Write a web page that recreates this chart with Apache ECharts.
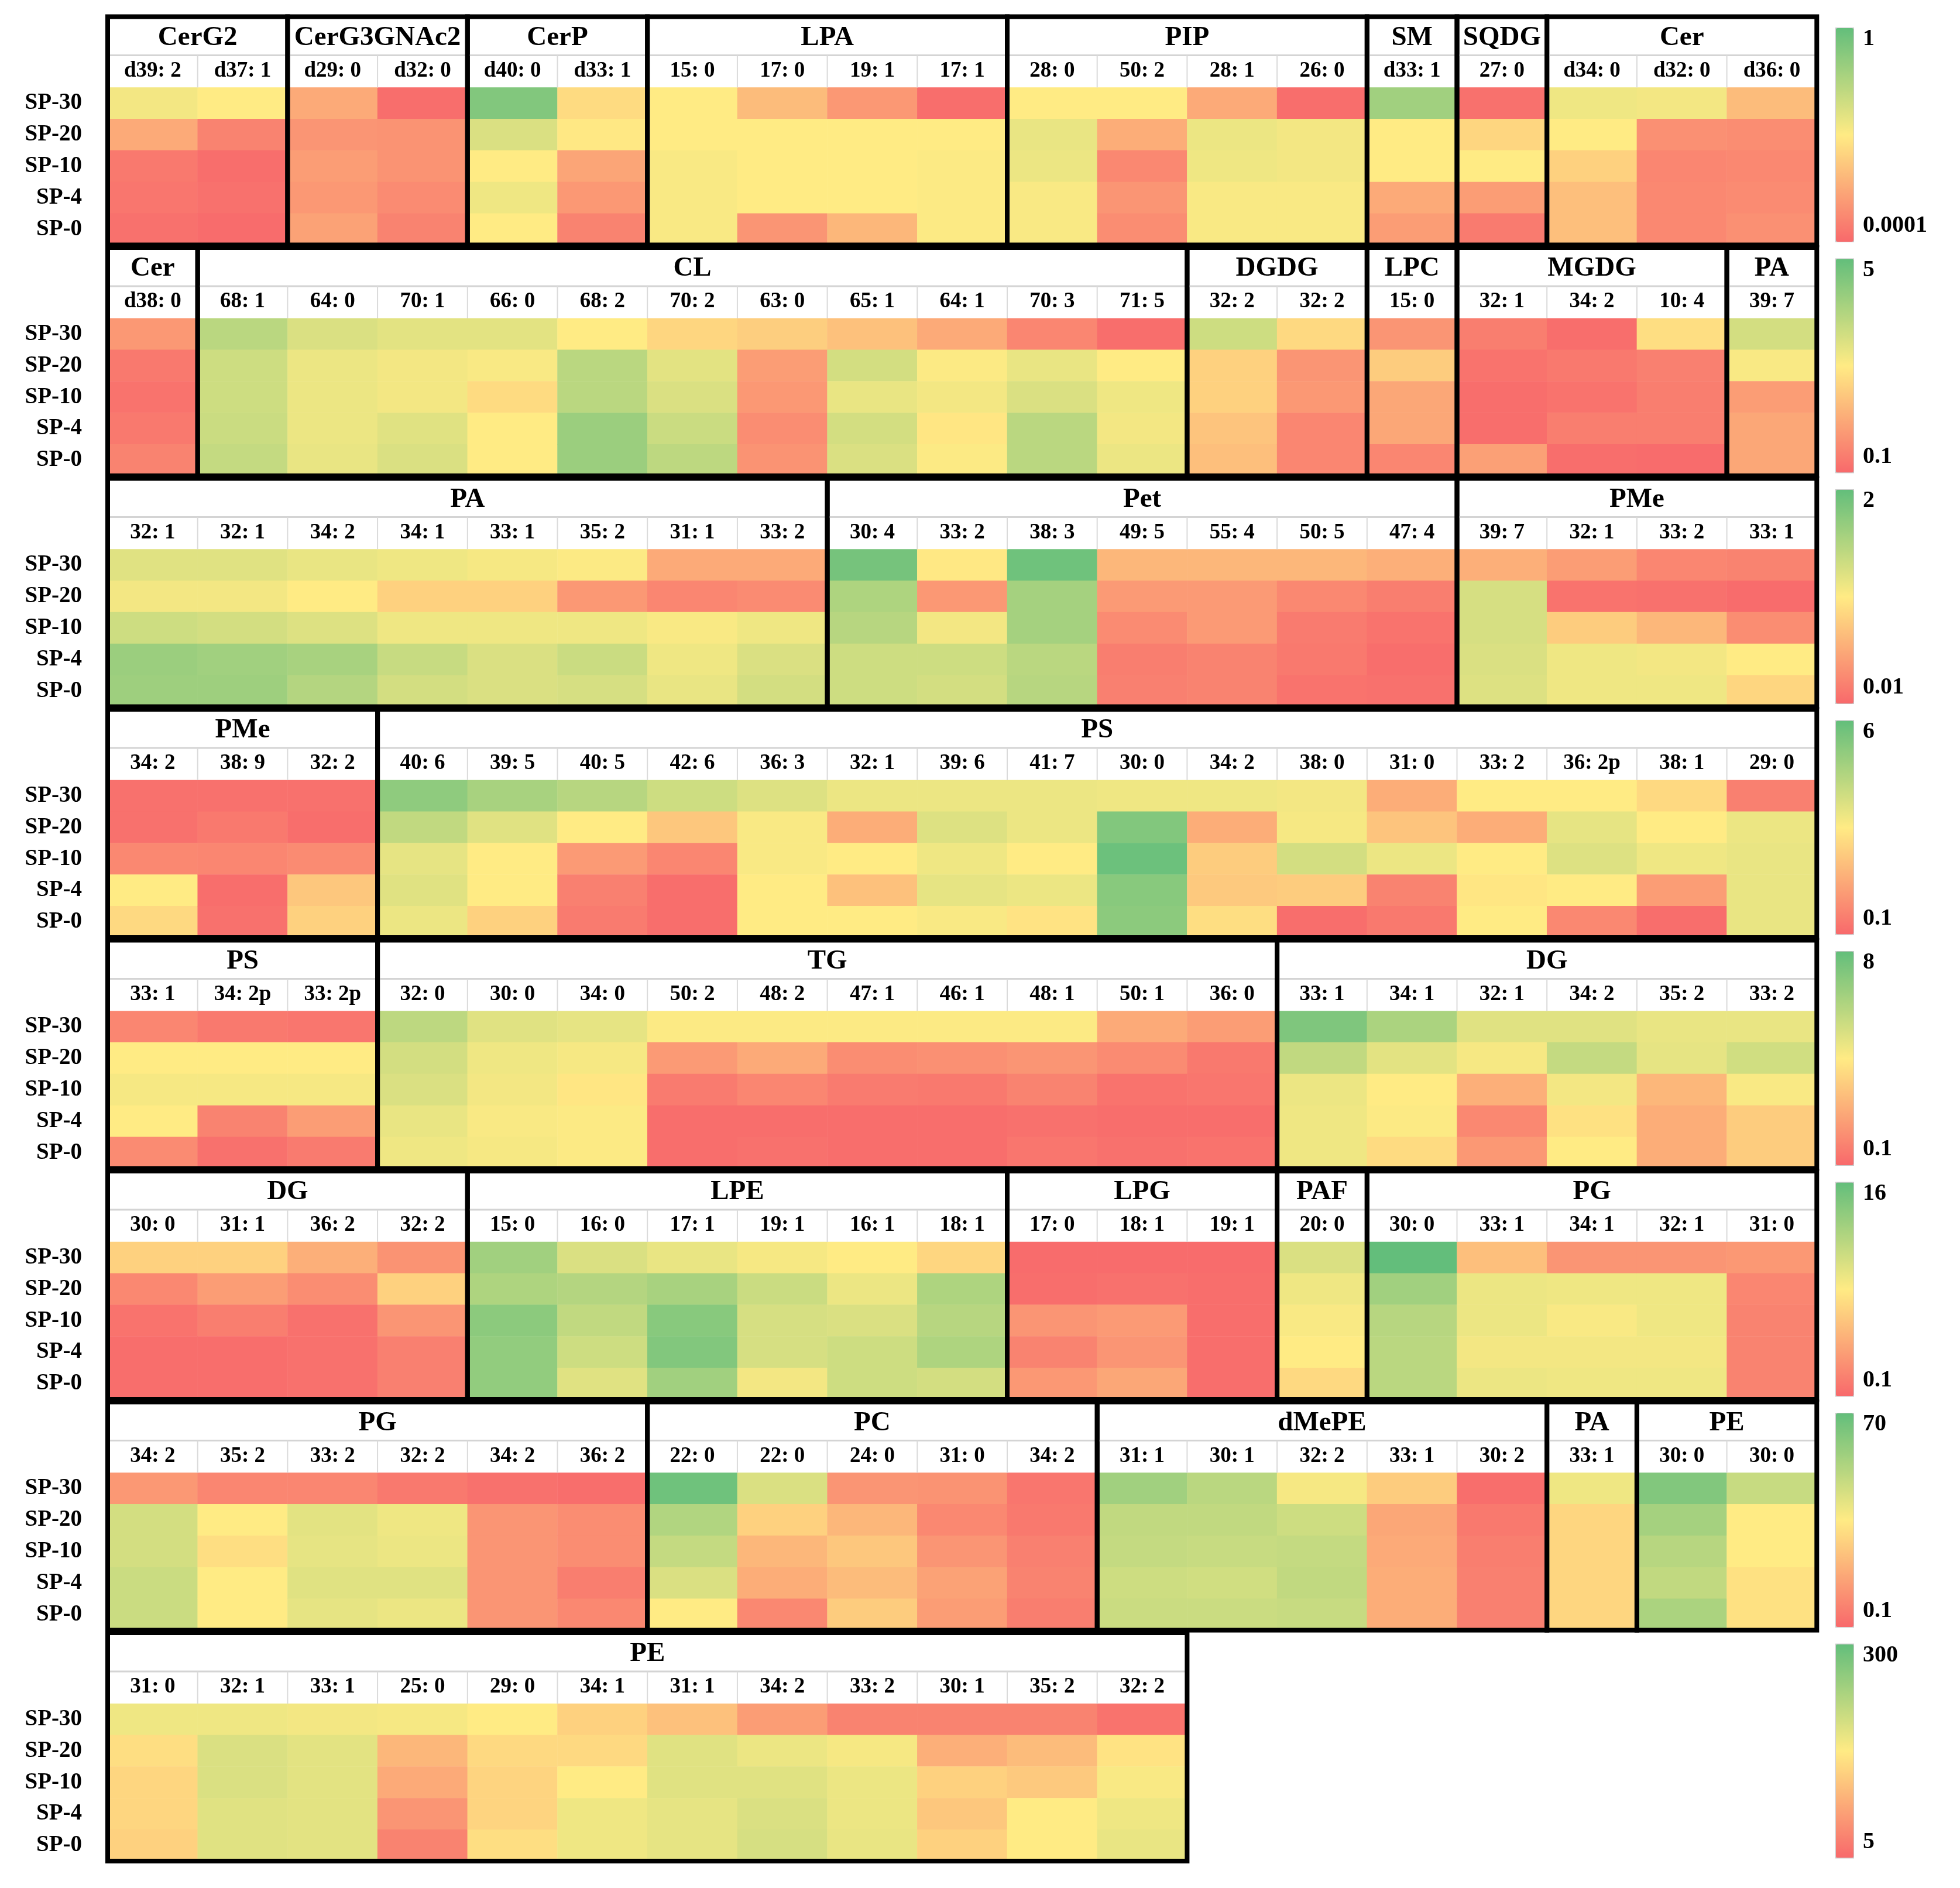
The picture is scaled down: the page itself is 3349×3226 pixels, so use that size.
<!DOCTYPE html>
<html>
<head>
<meta charset="utf-8">
<script src="https://cdn.jsdelivr.net/npm/echarts@6/dist/echarts.min.js"></script>
<style>
html, body { margin: 0; padding: 0; background: #fff; }
#coolgraph { width: 3349px; height: 3226px; }
</style>
</head>
<body>
<div id="coolgraph"></div>
<script>
// samples (rows of every block), top to bottom
var samples = ['SP-30', 'SP-20', 'SP-10', 'SP-4', 'SP-0'];

// values = position on that block's colour bar (0 = bottom label, 100 = top label),
// one inner list per species: SP-30, SP-20, SP-10, SP-4, SP-0
var groups1 = [['CerG2', 2], ['CerG3GNAc2', 2], ['CerP', 2], ['LPA', 4], ['PIP', 4], ['SM', 1], ['SQDG', 1], ['Cer', 3]];
var species1 = ['d39: 2', 'd37: 1', 'd29: 0', 'd32: 0', 'd40: 0', 'd33: 1', '15: 0', '17: 0', '19: 1', '17: 1', '28: 0', '50: 2', '28: 1', '26: 0', 'd33: 1', '27: 0', 'd34: 0', 'd32: 0', 'd36: 0'];
var values1 = [
  [54, 25, 6, 5, 3], [50, 10, 2, 3, 1], [25, 17, 20, 18, 22], [2, 16, 16, 13, 10],
  [90, 62, 50, 55, 50], [44, 49, 23, 18, 10], [50, 50, 52, 52, 52], [32, 50, 50, 50, 17],
  [18, 50, 50, 50, 30], [2, 50, 51, 51, 51], [50, 57, 56, 52, 52], [50, 26, 12, 17, 14],
  [25, 56, 55, 52, 52], [2, 54, 54, 52, 52], [80, 50, 50, 25, 20], [3, 42, 50, 20, 7],
  [55, 50, 40, 33, 33], [54, 15, 11, 12, 12], [32, 14, 12, 13, 15]
];
var scale1 = ['1', '0.0001'];

var groups2 = [['Cer', 1], ['CL', 11], ['DGDG', 2], ['LPC', 1], ['MGDG', 3], ['PA', 1]];
var species2 = ['d38: 0', '68: 1', '64: 0', '70: 1', '66: 0', '68: 2', '70: 2', '63: 0', '65: 1', '64: 1', '70: 3', '71: 5', '32: 2', '32: 2', '15: 0', '32: 1', '34: 2', '10: 4', '39: 7'];
var values2 = [
  [18, 6, 4, 6, 10], [72, 66, 66, 67, 69], [62, 56, 56, 56, 57], [59, 54, 54, 60, 62],
  [59, 52, 44, 50, 50], [50, 72, 72, 82, 82], [42, 59, 62, 67, 71], [39, 20, 18, 14, 16],
  [34, 64, 57, 64, 62], [25, 51, 54, 48, 51], [11, 57, 62, 72, 72], [2, 50, 55, 54, 56],
  [66, 40, 40, 35, 33], [43, 17, 18, 11, 11], [17, 38, 24, 24, 11], [8, 4, 2, 2, 21],
  [2, 6, 4, 8, 2], [45, 9, 8, 8, 1], [64, 52, 20, 24, 24]
];
var scale2 = ['5', '0.1'];

var groups3 = [['PA', 8], ['Pet', 7], ['PMe', 4]];
var species3 = ['32: 1', '32: 1', '34: 2', '34: 1', '33: 1', '35: 2', '31: 1', '33: 2', '30: 4', '33: 2', '38: 3', '49: 5', '55: 4', '50: 5', '47: 4', '39: 7', '32: 1', '33: 2', '33: 1'];
var values3 = [
  [60, 54, 66, 82, 81], [60, 54, 64, 80, 81], [57, 50, 61, 78, 74], [55, 40, 55, 68, 64],
  [53, 40, 55, 62, 62], [51, 18, 55, 67, 63], [25, 11, 52, 55, 57], [25, 13, 55, 62, 64],
  [94, 76, 73, 66, 66], [49, 18, 54, 66, 64], [96, 79, 79, 72, 73], [30, 19, 13, 8, 9],
  [30, 19, 19, 10, 10], [30, 12, 7, 6, 4], [27, 8, 4, 2, 3], [27, 63, 63, 62, 61],
  [20, 4, 38, 55, 55], [11, 3, 30, 54, 55], [10, 1, 14, 50, 42]
];
var scale3 = ['2', '0.01'];

var groups4 = [['PMe', 3], ['PS', 16]];
var species4 = ['34: 2', '38: 9', '32: 2', '40: 6', '39: 5', '40: 5', '42: 6', '36: 3', '32: 1', '39: 6', '41: 7', '30: 0', '34: 2', '38: 0', '31: 0', '33: 2', '36: 2p', '38: 1', '29: 0'];
var values4 = [
  [3, 3, 12, 50, 43], [3, 6, 11, 2, 3], [3, 2, 13, 36, 40], [86, 70, 58, 60, 56],
  [78, 60, 50, 50, 40], [73, 50, 19, 9, 7], [66, 36, 11, 2, 2], [61, 52, 52, 50, 50],
  [56, 26, 50, 34, 50], [56, 61, 55, 58, 52], [56, 56, 50, 56, 47], [55, 90, 97, 88, 87],
  [55, 26, 38, 37, 45], [54, 53, 64, 38, 2], [26, 35, 56, 10, 6], [50, 26, 50, 48, 50],
  [50, 58, 61, 50, 12], [43, 50, 55, 20, 2], [9, 56, 57, 57, 57]
];
var scale4 = ['6', '0.1'];

var groups5 = [['PS', 3], ['TG', 10], ['DG', 6]];
var species5 = ['33: 1', '34: 2p', '33: 2p', '32: 0', '30: 0', '34: 0', '50: 2', '48: 2', '47: 1', '46: 1', '48: 1', '50: 1', '36: 0', '33: 1', '34: 1', '32: 1', '34: 2', '35: 2', '33: 2'];
var values5 = [
  [11, 50, 53, 50, 13], [6, 50, 53, 10, 3], [5, 50, 53, 20, 7], [71, 64, 62, 57, 55],
  [60, 55, 54, 52, 53], [58, 53, 48, 51, 51], [51, 19, 7, 2, 2], [51, 25, 11, 2, 3],
  [51, 14, 7, 2, 2], [51, 15, 6, 2, 2], [51, 17, 10, 3, 5], [25, 13, 4, 2, 3],
  [20, 6, 5, 2, 4], [91, 70, 56, 55, 55], [77, 59, 50, 51, 44], [60, 53, 27, 12, 18],
  [60, 69, 54, 46, 50], [57, 58, 30, 26, 26], [57, 65, 52, 38, 38]
];
var scale5 = ['8', '0.1'];

var groups6 = [['DG', 4], ['LPE', 6], ['LPG', 3], ['PAF', 1], ['PG', 5]];
var species6 = ['30: 0', '31: 1', '36: 2', '32: 2', '15: 0', '16: 0', '17: 1', '19: 1', '16: 1', '18: 1', '17: 0', '18: 1', '19: 1', '20: 0', '30: 0', '33: 1', '34: 1', '32: 1', '31: 0'];
var values6 = [
  [40, 12, 4, 2, 2], [40, 20, 8, 2, 2], [27, 14, 3, 3, 3], [16, 40, 17, 9, 9],
  [80, 76, 87, 85, 85], [62, 74, 70, 66, 60], [57, 78, 88, 90, 80], [53, 67, 63, 63, 54],
  [50, 56, 62, 66, 66], [42, 76, 73, 76, 64], [1, 2, 17, 10, 18], [1, 3, 19, 17, 24],
  [1, 2, 2, 2, 2], [62, 55, 52, 50, 43], [100, 80, 73, 72, 72], [33, 56, 56, 54, 56],
  [17, 55, 52, 54, 55], [17, 55, 55, 54, 55], [18, 11, 10, 10, 10]
];
var scale6 = ['16', '0.1'];

var groups7 = [['PG', 6], ['PC', 5], ['dMePE', 5], ['PA', 1], ['PE', 2]];
var species7 = ['34: 2', '35: 2', '33: 2', '32: 2', '34: 2', '36: 2', '22: 0', '22: 0', '24: 0', '31: 0', '34: 2', '31: 1', '30: 1', '32: 2', '33: 1', '30: 2', '33: 1', '30: 0', '30: 0'];
var values7 = [
  [18, 64, 64, 67, 67], [11, 50, 45, 50, 50], [11, 59, 58, 60, 58], [6, 55, 56, 60, 56],
  [3, 17, 17, 17, 17], [2, 14, 14, 8, 12], [96, 75, 69, 62, 50], [62, 40, 30, 26, 12],
  [17, 30, 36, 32, 38], [16, 12, 17, 22, 20], [5, 6, 9, 10, 8], [80, 70, 69, 66, 67],
  [72, 70, 68, 65, 67], [53, 66, 69, 70, 68], [38, 24, 25, 26, 26], [2, 6, 8, 9, 9],
  [55, 42, 42, 42, 42], [90, 79, 73, 70, 77], [68, 50, 50, 46, 46]
];
var scale7 = ['70', '0.1'];

var groups8 = [['PE', 12]];
var species8 = ['31: 0', '32: 1', '33: 1', '25: 0', '29: 0', '34: 1', '31: 1', '34: 2', '33: 2', '30: 1', '35: 2', '32: 2'];
var values8 = [
  [55, 45, 42, 42, 40], [55, 62, 62, 60, 60], [54, 59, 59, 59, 59], [53, 30, 25, 17, 10],
  [50, 43, 41, 41, 45], [40, 43, 50, 55, 55], [34, 60, 60, 58, 58], [20, 56, 60, 62, 63],
  [10, 53, 56, 56, 57], [10, 27, 40, 36, 40], [10, 32, 37, 50, 50], [4, 47, 52, 55, 57]
];
var scale8 = ['300', '5'];

var blocks = [
  [groups1, species1, values1, scale1],
  [groups2, species2, values2, scale2],
  [groups3, species3, values3, scale3],
  [groups4, species4, values4, scale4],
  [groups5, species5, values5, scale5],
  [groups6, species6, values6, scale6],
  [groups7, species7, values7, scale7],
  [groups8, species8, values8, scale8]
];

var serif = '"Liberation Serif", "Times New Roman", serif';
var colW = 153.7;
var gridLeft = 184;
var pitch = 394.5;
var firstTop = 149.5;
var cellH = 269;
var barTop = 47;
var barH = 365;

var chartDom = document.getElementById('coolgraph');
var myChart = echarts.init(chartDom);

function groupSpans(groups) {
  var out = [];
  var c = 0;
  for (var i = 0; i < groups.length; i++) {
    out.push({ name: groups[i][0], value: [c, 0, c + groups[i][1] - 1] });
    c += groups[i][1];
  }
  return out;
}

// header boxes + thick frame around each lipid class
function makeRender(spans) {
  return function (params, api) {
    var g = spans[params.dataIndex];
    var s = api.value(0), e = api.value(2);
    var size = api.size([1, 1]);
    var a = api.coord([s, 0]);
    var b = api.coord([e, 4]);
    var x0 = a[0] - size[0] / 2;
    var x1 = b[0] + size[0] / 2;
    var top = a[1] - size[1] / 2;
    var bottom = b[1] + size[1] / 2;
    var headTop = top - 121;
    var spTop = top - 55;
    var kids = [];
    kids.push({ type: 'line', shape: { x1: x0, y1: spTop, x2: x1, y2: spTop }, style: { stroke: '#d4d4d4', lineWidth: 3 } });
    for (var k = s + 1; k <= e; k++) {
      var xk = api.coord([k, 0])[0] - size[0] / 2;
      kids.push({ type: 'line', shape: { x1: xk, y1: spTop, x2: xk, y2: top }, style: { stroke: '#dadada', lineWidth: 2 } });
    }
    kids.push({
      type: 'text',
      style: { text: g.name, x: (x0 + x1) / 2, y: headTop + 36, align: 'center', verticalAlign: 'middle', font: 'bold 47px ' + serif, fill: '#000' }
    });
    kids.push({ type: 'rect', shape: { x: x0, y: headTop, width: x1 - x0, height: bottom - headTop }, style: { fill: 'none', stroke: '#000', lineWidth: 8 } });
    return { type: 'group', children: kids };
  };
}

var grids = [], xAxes = [], yAxes = [], series = [], custom = [], maps = [], labels = [];

for (let r = 0; r < blocks.length; r++) {
  var groups = blocks[r][0], species = blocks[r][1], values = blocks[r][2], scale = blocks[r][3];
  grids.push({ left: gridLeft, top: firstTop + r * pitch, width: species.length * colW, height: cellH });
  xAxes.push({
    type: 'category', gridIndex: r, position: 'top', data: species,
    axisLine: { show: false }, axisTick: { show: false }, splitLine: { show: false },
    axisLabel: { interval: 0, margin: 10, color: '#000', fontFamily: serif, fontWeight: 'bold', fontSize: 37 }
  });
  yAxes.push({
    type: 'category', gridIndex: r, inverse: true, data: samples,
    axisLine: { show: false }, axisTick: { show: false }, splitLine: { show: false },
    axisLabel: { margin: 44, color: '#000', fontFamily: serif, fontWeight: 'bold', fontSize: 39 }
  });
  var cells = [];
  for (var c = 0; c < values.length; c++) {
    for (var s = 0; s < samples.length; s++) {
      cells.push([c, s, values[c][s]]);
    }
  }
  series.push({
    type: 'heatmap', xAxisIndex: r, yAxisIndex: r, data: cells,
    itemStyle: { borderWidth: 0 }, emphasis: { disabled: true }
  });
  var spans = groupSpans(groups);
  custom.push({
    type: 'custom', xAxisIndex: r, yAxisIndex: r, z: 5, silent: true, clip: false,
    encode: { x: 0, y: 1 }, data: spans, renderItem: makeRender(spans)
  });
  maps.push({
    type: 'continuous', seriesIndex: r, min: 0, max: 100, calculable: false, hoverLink: false,
    orient: 'vertical', left: 3136, top: barTop + r * pitch, itemWidth: 30, itemHeight: barH,
    padding: 0, borderColor: '#c9c9c9', borderWidth: 2,
    inRange: { color: ['#F8696B', '#FFEB84', '#63BE7B'] }
  });
  labels.push({
    type: 'text', left: 3183, top: barTop + r * pitch,
    style: { text: scale[0], font: 'bold 40px ' + serif, fill: '#000' }
  });
  labels.push({
    type: 'text', left: 3183, top: barTop + r * pitch + barH - 46,
    style: { text: scale[1], font: 'bold 40px ' + serif, fill: '#000' }
  });
}

var option = {
  animation: false,
  backgroundColor: '#fff',
  grid: grids,
  xAxis: xAxes,
  yAxis: yAxes,
  visualMap: maps,
  graphic: labels,
  series: series.concat(custom)
};

option && myChart.setOption(option);
</script>
</body>
</html>
